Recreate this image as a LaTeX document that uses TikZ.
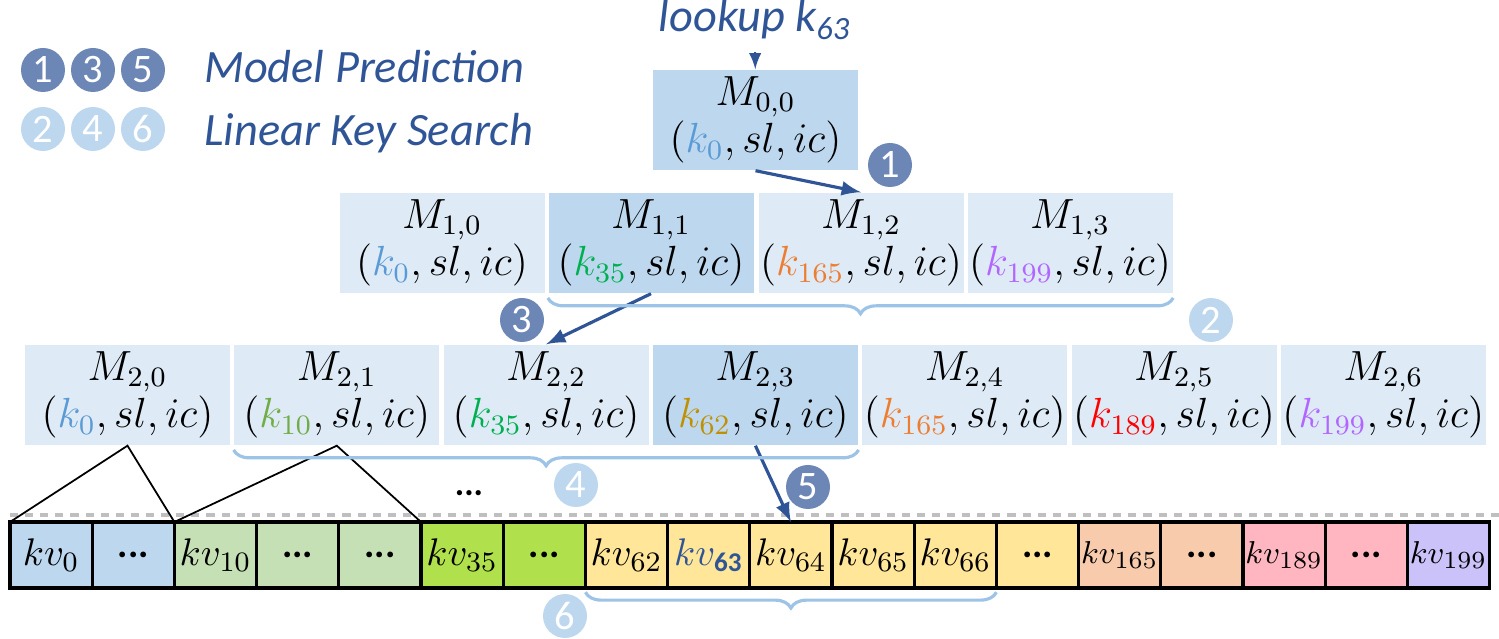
\documentclass[tikz,border=0pt]{standalone}
\usepackage{fontspec}
\setmainfont{Carlito}
\usetikzlibrary{decorations.pathreplacing}

\definecolor{txtblue}{HTML}{2F5597}
\definecolor{numdark}{HTML}{6C86B6}
\definecolor{numlight}{HTML}{BDD7EE}
\definecolor{boxlight}{HTML}{DEEBF7}
\definecolor{boxmid}{HTML}{BDD7EE}
\definecolor{bracecol}{HTML}{9DC3E6}
\definecolor{kblue}{HTML}{5B9BD5}
\definecolor{kgreen}{HTML}{70AD47}
\definecolor{kgreenb}{HTML}{00B050}
\definecolor{kgold}{HTML}{BF9000}
\definecolor{korange}{HTML}{ED7D31}
\definecolor{kred}{HTML}{FF0000}
\definecolor{kpurple}{HTML}{B266FF}
\definecolor{cblue}{HTML}{BDD7EE}
\definecolor{cgreen}{HTML}{C5E0B4}
\definecolor{cgreenb}{HTML}{B0E04C}
\definecolor{cyellow}{HTML}{FFE699}
\definecolor{csalmon}{HTML}{F8CBAD}
\definecolor{cpink}{HTML}{FFB6C0}
\definecolor{cpurple}{HTML}{CBC2FA}

\begin{document}
\begin{tikzpicture}[>=latex,
    mbox/.style={fill=boxlight, minimum width=2.05cm, minimum height=1cm, inner sep=0pt,
        align=center, font=\fontsize{12}{13.5}\selectfont,
        execute at begin node={\rule{0pt}{11pt}}},
    mhi/.style={mbox, fill=boxmid},
    cell/.style={draw=black, line width=0.9pt, minimum width=0.822cm, minimum height=0.66cm,
        inner sep=0pt, outer sep=0pt, font=\fontsize{11}{12}\selectfont},
    numd/.style={circle, fill=numdark, text=white, inner sep=0pt, minimum size=0.44cm,
        font=\fontsize{11.5}{12}\selectfont},
    numl/.style={numd, fill=numlight},
    legtxt/.style={text=txtblue, font=\fontsize{13.2}{14}\selectfont\itshape},
    arr/.style={->, draw=txtblue, line width=0.9pt},
    brc/.style={decorate, decoration={brace, amplitude=4.5pt}, draw=bracecol, line width=0.9pt},
    tri/.style={draw=black, line width=0.5pt},
    gline/.style={draw=black!25, line width=0.9pt, dash pattern=on 2.3pt off 2pt}]

    \useasboundingbox (0,0) rectangle (14.99,-6.39);

    % 1. Leyenda
    \node[numd] (l1) at (0.43,-0.70) {1};
    \node[numd] (l3) at (0.93,-0.70) {3};
    \node[numd] (l5) at (1.43,-0.70) {5};
    \node[numl] (l2) at (0.43,-1.29) {2};
    \node[numl] (l4) at (0.93,-1.29) {4};
    \node[numl] (l6) at (1.43,-1.29) {6};
    \node[legtxt, anchor=base west] (mpred) at (1.92,-0.83) {Model Prediction};
    \node[legtxt, anchor=base west] (lsearch) at (1.92,-1.46) {Linear Key Search};

    % 2. Consulta y nivel 0
    \node[legtxt, anchor=base] (look) at (7.55,-0.32) {lookup k\textsubscript{63}};
    \node[mhi] (m00) at (7.555,-1.20) {$M_{0,0}$\\$(\textcolor{kblue}{k_0},sl,ic)$};
    \draw[->, draw=txtblue, line width=0.6pt] (look) -- (m00);

    % 3. Nivel 1
    \node[mbox] (m10) at (4.42,-2.43) {$M_{1,0}$\\$(\textcolor{kblue}{k_0},sl,ic)$};
    \node[mhi]  (m11) at (6.51,-2.43) {$M_{1,1}$\\$(\textcolor{kgreenb}{k_{35}},sl,ic)$};
    \node[mbox] (m12) at (8.61,-2.43) {$M_{1,2}$\\$(\textcolor{korange}{k_{165}},sl,ic)$};
    \node[mbox] (m13) at (10.70,-2.43) {$M_{1,3}$\\$(\textcolor{kpurple}{k_{199}},sl,ic)$};

    % 4. Nivel 2
    \node[mbox] (m20) at (1.275,-3.95) {$M_{2,0}$\\$(\textcolor{kblue}{k_0},sl,ic)$};
    \node[mbox] (m21) at (3.368,-3.95) {$M_{2,1}$\\$(\textcolor{kgreen}{k_{10}},sl,ic)$};
    \node[mbox] (m22) at (5.461,-3.95) {$M_{2,2}$\\$(\textcolor{kgreenb}{k_{35}},sl,ic)$};
    \node[mhi]  (m23) at (7.554,-3.95) {$M_{2,3}$\\$(\textcolor{kgold}{k_{62}},sl,ic)$};
    \node[mbox] (m24) at (9.647,-3.95) {$M_{2,4}$\\$(\textcolor{korange}{k_{165}},sl,ic)$};
    \node[mbox] (m25) at (11.740,-3.95) {$M_{2,5}$\\$(\textcolor{kred}{k_{189}},sl,ic)$};
    \node[mbox] (m26) at (13.833,-3.95) {$M_{2,6}$\\$(\textcolor{kpurple}{k_{199}},sl,ic)$};

    % 5. Pares clave-valor
    \node[cell, fill=cblue]    (c0)  at (0.511,-5.55) {$kv_{0}$};
    \node[cell, fill=cblue]    (c1)  at (1.333,-5.55) {\textbf{...}};
    \node[cell, fill=cgreen]   (c2)  at (2.155,-5.55) {$kv_{10}$};
    \node[cell, fill=cgreen]   (c3)  at (2.977,-5.55) {\textbf{...}};
    \node[cell, fill=cgreen]   (c4)  at (3.799,-5.55) {\textbf{...}};
    \node[cell, fill=cgreenb]  (c5)  at (4.621,-5.55) {$kv_{35}$};
    \node[cell, fill=cgreenb]  (c6)  at (5.443,-5.55) {\textbf{...}};
    \node[cell, fill=cyellow]  (c7)  at (6.265,-5.55) {$kv_{62}$};
    \node[cell, fill=cyellow]  (c8)  at (7.087,-5.55) {$\textcolor{txtblue}{kv_{\mathbf{63}}}$};
    \node[cell, fill=cyellow]  (c9)  at (7.909,-5.55) {$kv_{64}$};
    \node[cell, fill=cyellow]  (c10) at (8.731,-5.55) {$kv_{65}$};
    \node[cell, fill=cyellow]  (c11) at (9.553,-5.55) {$kv_{66}$};
    \node[cell, fill=cyellow]  (c12) at (10.375,-5.55) {\textbf{...}};
    \node[cell, fill=csalmon]  (c13) at (11.197,-5.55) {\fontsize{9.5}{10}\selectfont$kv_{165}$};
    \node[cell, fill=csalmon]  (c14) at (12.019,-5.55) {\textbf{...}};
    \node[cell, fill=cpink]    (c15) at (12.841,-5.55) {\fontsize{9.5}{10}\selectfont$kv_{189}$};
    \node[cell, fill=cpink]    (c16) at (13.663,-5.55) {\textbf{...}};
    \node[cell, fill=cpurple]  (c17) at (14.485,-5.55) {\fontsize{9.5}{10}\selectfont$kv_{199}$};

    % 6. Linea discontinua y triangulos
    \coordinate (dashL) at (0.10,-5.15);
    \coordinate (dashR) at (14.99,-5.15);
    \draw[gline] (dashL) -- (dashR);
    \draw[tri] (c0.north west) -- (m20.south) -- (c2.north west);
    \draw[tri] (c2.north west) -- (m21.south) -- (c5.north west);
    \node[font=\bfseries] (dots) at (4.69,-4.93) {...};

    % 7. Flechas de prediccion
    \draw[arr] (m00.south) -- (m12.north);
    \draw[arr] (m11.south) -- (m22.north);
    \draw[arr] (m23.south) -- (c9.north);
    \node[numd] (n1) at (8.90,-1.65) {1};
    \node[numd] (n3) at (5.22,-3.20) {3};
    \node[numd] (n5) at (8.08,-4.87) {5};

    % 8. Busqueda lineal (llaves)
    \draw[brc] ([yshift=-1.2pt]m13.south east) -- ([yshift=-1.2pt]m11.south west);
    \draw[brc] ([yshift=-1.2pt]m23.south east) -- ([yshift=-1.2pt]m21.south west);
    \draw[brc] ([yshift=-1.2pt]c11.south east) -- ([yshift=-1.2pt]c7.south west);
    \node[numl] (n2) at (12.11,-3.20) {2};
    \node[numl] (n4) at (5.76,-4.85) {4};
    \node[numl] (n6) at (5.65,-6.16) {6};

\end{tikzpicture}
\end{document}
